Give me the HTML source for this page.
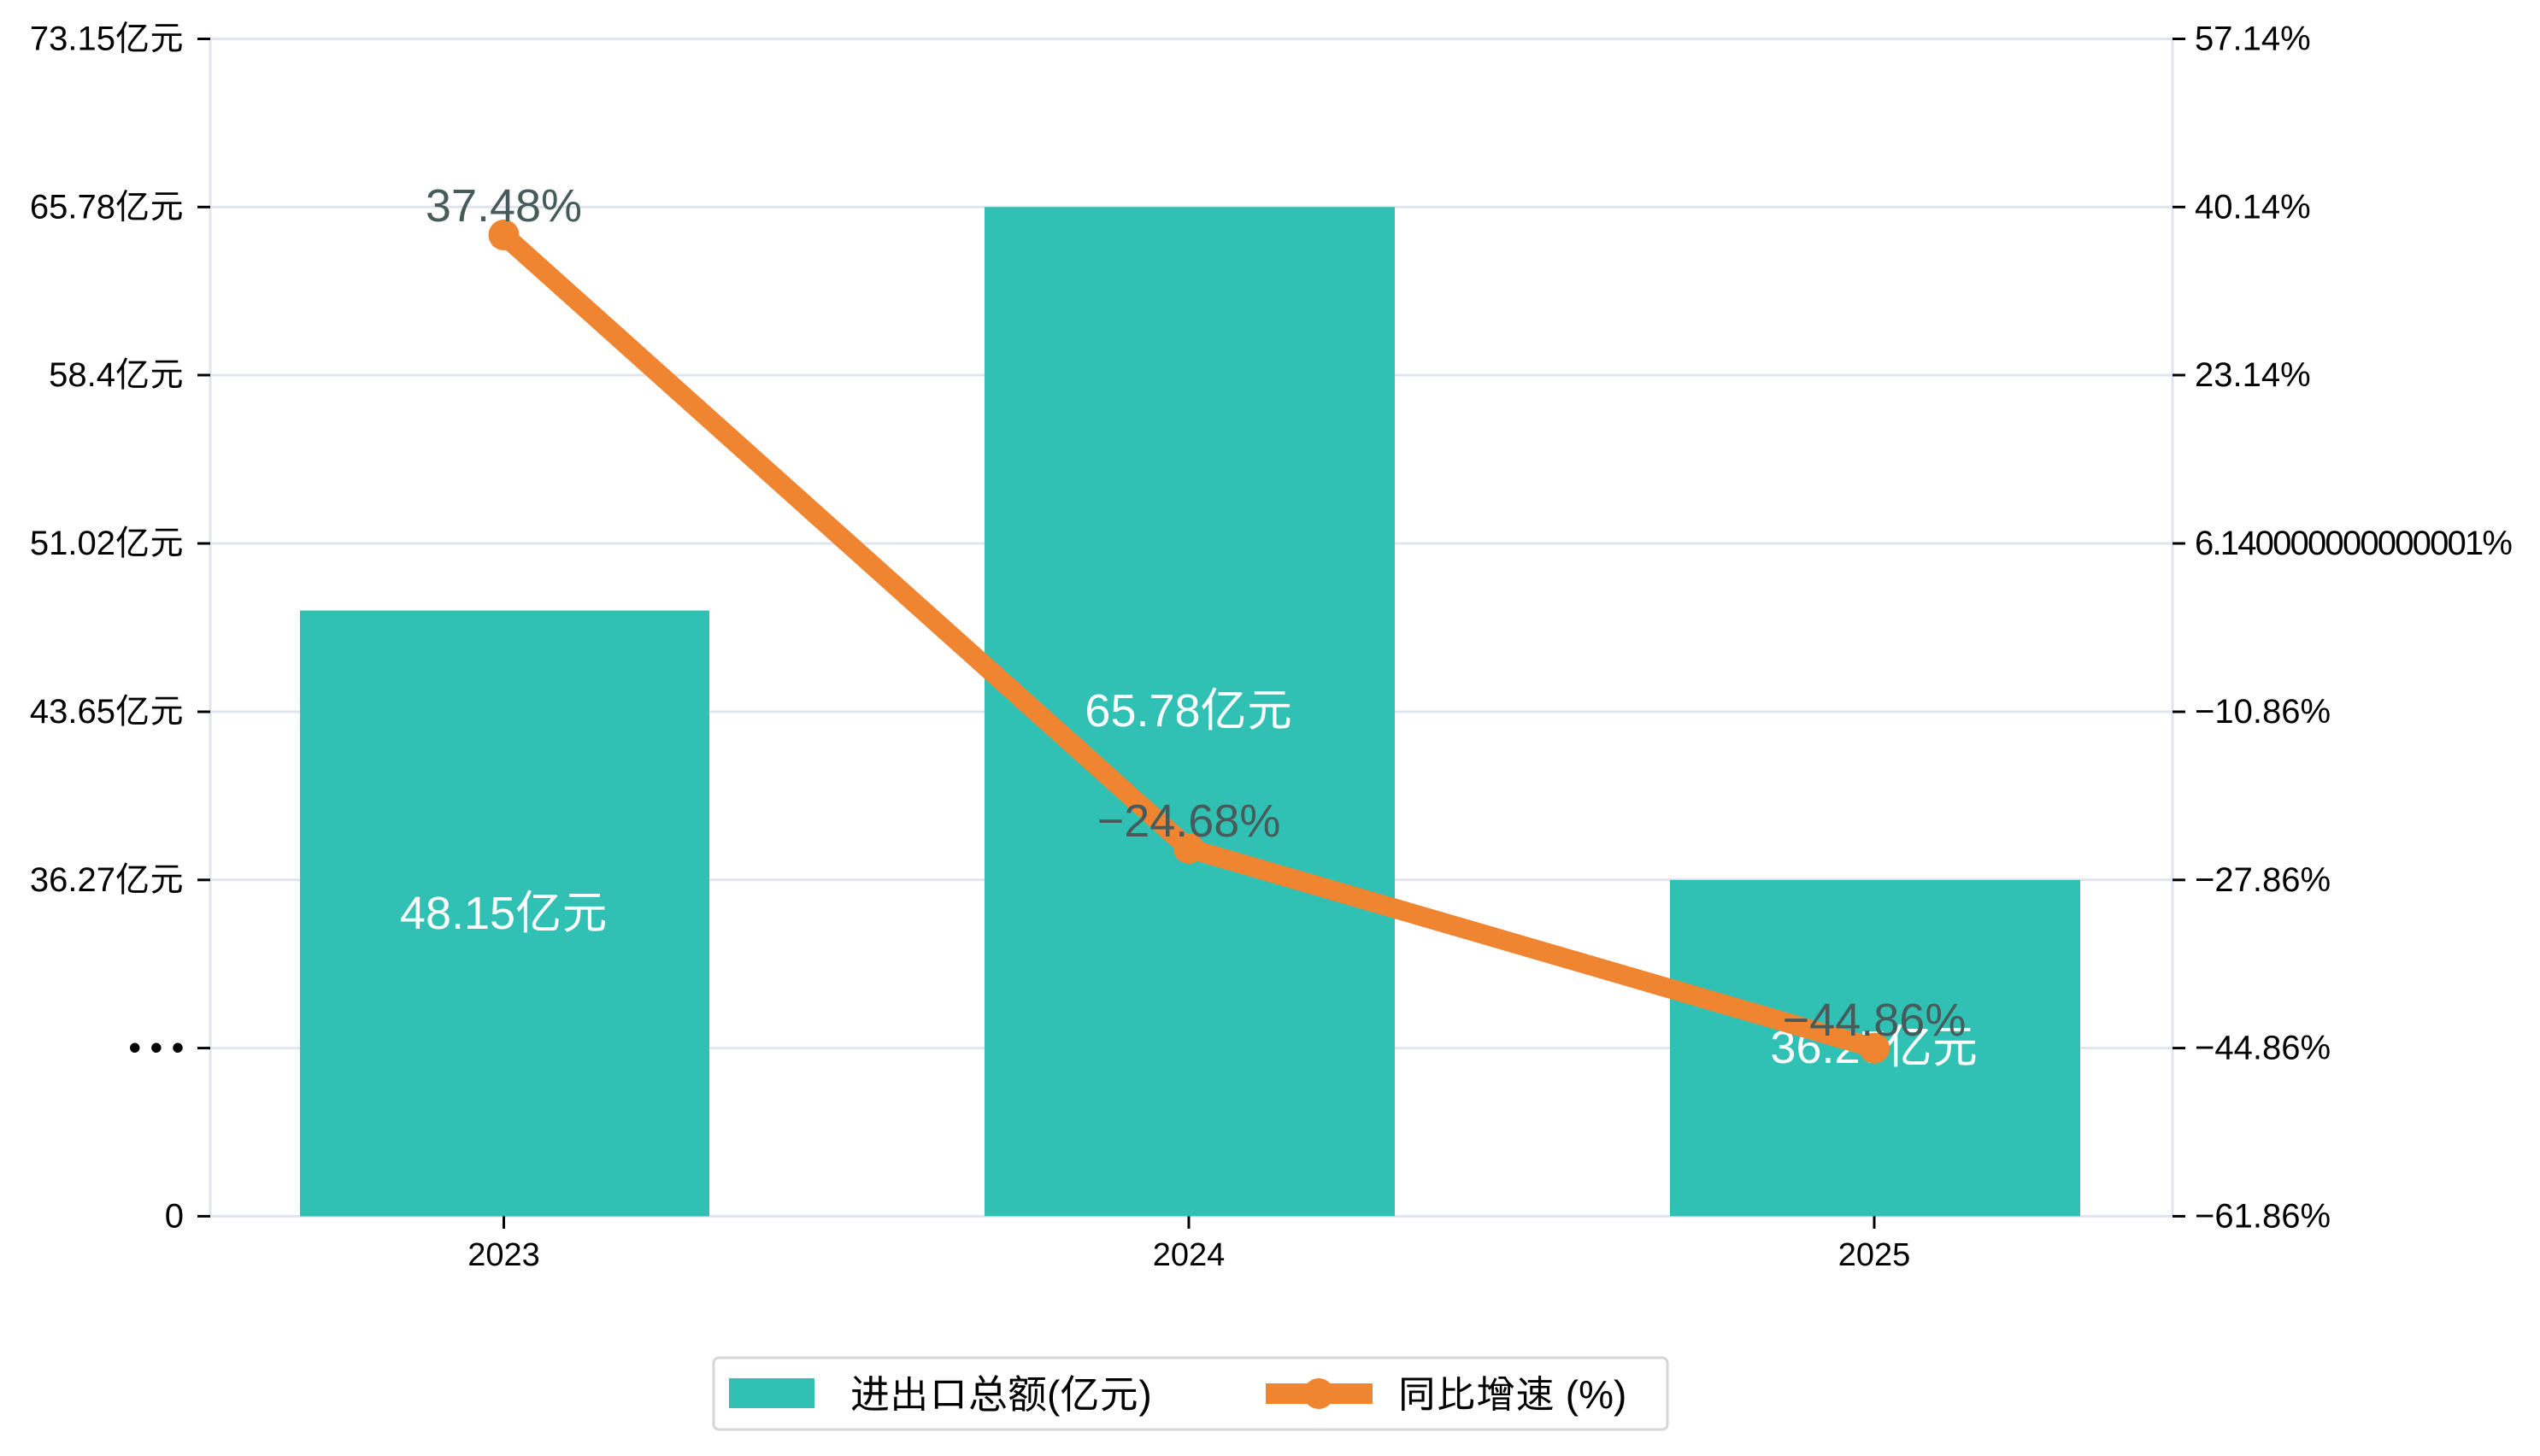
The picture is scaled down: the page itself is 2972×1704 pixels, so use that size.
<!DOCTYPE html>
<html><head><meta charset="utf-8"><style>
html,body{margin:0;padding:0;background:#fff;}
svg{display:block;}
text{font-family:"Liberation Sans","IPAGothic","Noto Sans CJK SC",sans-serif;}
</style></head><body>
<svg width="2972" height="1704" viewBox="0 0 2972 1704" xmlns="http://www.w3.org/2000/svg">
<g stroke="#e1e4ef" stroke-width="3">
<line x1="246" y1="45.5" x2="2542" y2="45.5"/>
<line x1="246" y1="242.3" x2="2542" y2="242.3"/>
<line x1="246" y1="439" x2="2542" y2="439"/>
<line x1="246" y1="636" x2="2542" y2="636"/>
<line x1="246" y1="833" x2="2542" y2="833"/>
<line x1="246" y1="1029.8" x2="2542" y2="1029.8"/>
<line x1="246" y1="1226.6" x2="2542" y2="1226.6"/>
<line x1="246" y1="1423.4" x2="2542" y2="1423.4"/>
<line x1="246" y1="45.5" x2="246" y2="1423.4"/>
<line x1="2542" y1="45.5" x2="2542" y2="1423.4"/>
</g>
<g fill="#31c1b4">
<rect x="351" y="714.5" width="479" height="709"/>
<rect x="1152" y="242.3" width="480" height="1181"/>
<rect x="1954" y="1029.8" width="480" height="393.6"/>
</g>
<g stroke="#000" stroke-width="3">
<line x1="231" y1="45.5" x2="246" y2="45.5"/><line x1="231" y1="242.3" x2="246" y2="242.3"/>
<line x1="231" y1="439" x2="246" y2="439"/><line x1="231" y1="636" x2="246" y2="636"/>
<line x1="231" y1="833" x2="246" y2="833"/><line x1="231" y1="1029.8" x2="246" y2="1029.8"/>
<line x1="231" y1="1226.6" x2="246" y2="1226.6"/><line x1="231" y1="1423.4" x2="246" y2="1423.4"/>
<line x1="2542" y1="45.5" x2="2557" y2="45.5"/><line x1="2542" y1="242.3" x2="2557" y2="242.3"/>
<line x1="2542" y1="439" x2="2557" y2="439"/><line x1="2542" y1="636" x2="2557" y2="636"/>
<line x1="2542" y1="833" x2="2557" y2="833"/><line x1="2542" y1="1029.8" x2="2557" y2="1029.8"/>
<line x1="2542" y1="1226.6" x2="2557" y2="1226.6"/><line x1="2542" y1="1423.4" x2="2557" y2="1423.4"/>
<line x1="589.5" y1="1423.4" x2="589.5" y2="1438"/><line x1="1391" y1="1423.4" x2="1391" y2="1438"/>
<line x1="2193" y1="1423.4" x2="2193" y2="1438"/>
</g>
<g font-size="40" fill="#000" text-anchor="end" dominant-baseline="central">
<text x="215" y="45.5">73.15亿元</text>
<text x="215" y="242.3">65.78亿元</text>
<text x="215" y="439">58.4亿元</text>
<text x="215" y="636">51.02亿元</text>
<text x="215" y="833">43.65亿元</text>
<text x="215" y="1029.8">36.27亿元</text>
<text x="215" y="1226.6" font-weight="bold">• • •</text>
<text x="215" y="1423.4">0</text>
</g>
<g font-size="40" fill="#000" dominant-baseline="central">
<text x="2568" y="45.5">57.14%</text>
<text x="2568" y="242.3">40.14%</text>
<text x="2568" y="439">23.14%</text>
<text x="2568" y="636" textLength="372">6.140000000000001%</text>
<text x="2568" y="833">−10.86%</text>
<text x="2568" y="1029.8">−27.86%</text>
<text x="2568" y="1226.6">−44.86%</text>
<text x="2568" y="1423.4">−61.86%</text>
</g>
<g font-size="38" fill="#000" text-anchor="middle" dominant-baseline="central">
<text x="589.5" y="1469">2023</text><text x="1391" y="1469">2024</text><text x="2193" y="1469">2025</text>
</g>
<g font-size="54" fill="#fff" text-anchor="middle" dominant-baseline="central">
<text x="589.5" y="1069">48.15亿元</text>
<text x="1391" y="832">65.78亿元</text>
<text x="2193" y="1226">36.27亿元</text>
</g>
<polyline points="589.5,275 1391,993 2193,1226.6" fill="none" stroke="#ef8431" stroke-width="23" stroke-linejoin="round"/>
<g fill="#ef8431">
<circle cx="589.5" cy="275" r="18"/><circle cx="1391" cy="993" r="18"/><circle cx="2193" cy="1226.6" r="18"/>
</g>
<g font-size="54" fill="#475b5b" text-anchor="middle" dominant-baseline="central">
<text x="589.5" y="241">37.48%</text>
<text x="1391" y="961">−24.68%</text>
<text x="2193" y="1194">−44.86%</text>
</g>
<rect x="835" y="1589" width="1116" height="84" rx="6" fill="#fff" stroke="#d6d6d6" stroke-width="3"/>
<rect x="853" y="1613" width="100" height="35" fill="#31c1b4"/>
<text x="995" y="1648" font-size="46" fill="#000">进出口总额(亿元)</text>
<line x1="1481" y1="1631" x2="1606" y2="1631" stroke="#ef8431" stroke-width="24"/>
<circle cx="1543" cy="1631" r="18" fill="#ef8431"/>
<text x="1635" y="1648" font-size="46" fill="#000">同比增速 (%)</text>
</svg>
</body></html>
